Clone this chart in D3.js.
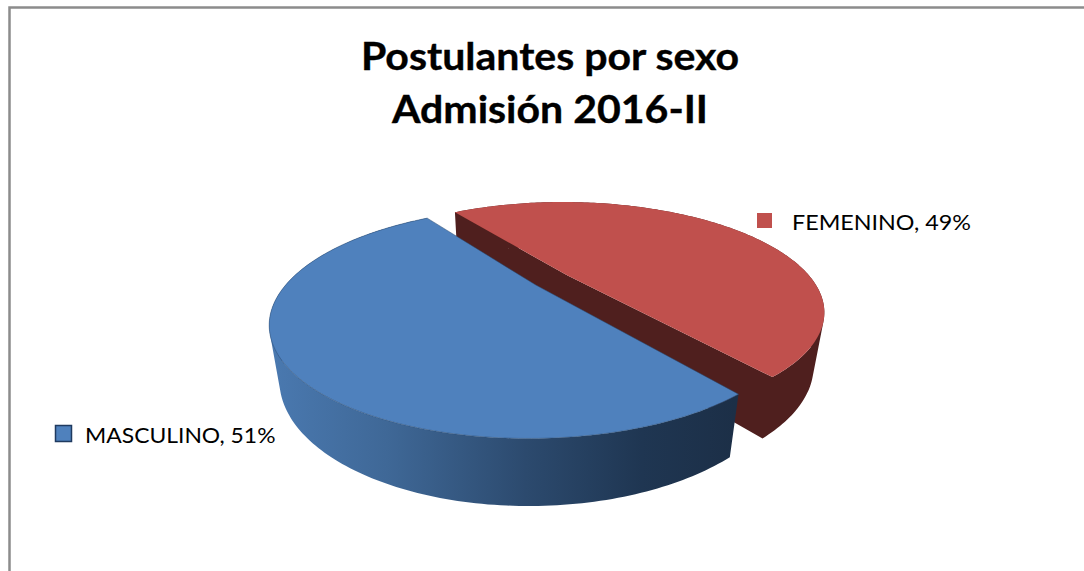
<!DOCTYPE html>
<html lang="es"><head><meta charset="utf-8">
<style>html,body{margin:0;padding:0;background:#fff}svg{display:block}text{font-family:Lato,"Liberation Sans",sans-serif;fill:#000}</style>
</head><body>
<svg id="c" width="1084" height="571"></svg>
<script src="https://cdn.jsdelivr.net/npm/d3@7"></script>
<script>
const titleLines = ["Postulantes por sexo", "Admisión 2016-II"];
const categories = ["MASCULINO", "FEMENINO"];
const values = [51, 49];
const topColors = ["#4f81bd", "#c0504d"];

const G = {cx:535.9, cy:285.1, a:249.6, b:103.1, s:10.35, t:-2.39, k:0.3275, m:-0.0054, e:0.16};
const firstCut = -0.6261; // angle of the blue/red cut at the back of the disc

const svg = d3.select("#c");
const defs = svg.append("defs");
const grad = defs.append("linearGradient").attr("id","blueWall")
  .attr("gradientUnits","userSpaceOnUse").attr("x1",270).attr("x2",735).attr("y1",0).attr("y2",0);
[[0,"#4a79b0"],[0.25,"#3f6897"],[0.55,"#2c4a6e"],[0.8,"#1f3652"],[1,"#1c2f47"]]
  .forEach(([o,c])=>grad.append("stop").attr("offset",o).attr("stop-color",c));

// frame
svg.append("path").attr("d",`M9.5,571V7.5H1084`).attr("fill","none").attr("stroke","#8c8c8c").attr("stroke-width",2.5);

const total = d3.sum(values);
const startAngle = firstCut + 2*Math.PI*values[1]/total;
const arcs = d3.pie().sort(null).startAngle(startAngle).endAngle(startAngle+2*Math.PI)(values);

function project(u,v){
  const w = 1+G.k*v+G.m*u;
  return [G.cx+(G.a*u+G.s*v)/w, G.cy-(G.b*v+G.t*u)/w, w];
}
function lower(u,v){
  const [x,y,w] = project(u,v);
  const dep = 20+32/w;
  return [x-(x-G.cx)*dep*0.00068, y+dep];
}
const line = d3.line();
arcs.forEach((d,i)=>{ d.du = i? G.e*Math.sin((d.startAngle+d.endAngle)/2):0; d.dv = i? G.e*Math.cos((d.startAngle+d.endAngle)/2):0; });
const rim = (d,f)=>d3.range(0,181).map(j=>{
  const th=d.startAngle+(d.endAngle-d.startAngle)*j/180;
  return f(Math.sin(th)+d.du,Math.cos(th)+d.dv).slice(0,2);
});
// a quad with a fixed winding, so overlapping quads in one path never cancel
const quad = (a,b,c,e)=>{ const q=[a,b,c,e]; return line(d3.polygonArea(q)<0?q.reverse():q)+"Z"; };

[1,0].forEach(i=>{
  const d=arcs[i];
  const top=rim(d,project), bot=rim(d,lower);
  const g=svg.append("g");
  const wall=i===0?"url(#blueWall)":"#4f1f1e";
  let wd="";
  for(let j=0;j<180;j++) wd+=quad(top[j],top[j+1],bot[j+1],bot[j]);
  const c0=project(d.du,d.dv).slice(0,2), c1=lower(d.du,d.dv);
  if(i===1){
    wd+=quad(top[0],c0,c1,bot[0]);
    wd+=quad(top[180],c0,c1,bot[180]);
  }
  g.append("path").attr("d",wd).attr("fill",wall).attr("fill-rule","nonzero");
  g.append("path").attr("d",line(top.concat([c0]))+"Z").attr("fill",topColors[i])
    .attr("stroke",i===0?"#2b4a70":"none").attr("stroke-width",i===0?0.5:0);
});

// title
svg.append("g").selectAll("text").data(titleLines).join("text")
  .attr("transform",(d,i)=>`translate(550,${69.5+i*53.5}) scale(1.08,1)`).attr("text-anchor","middle")
  .attr("font-size",38).attr("font-weight",700).attr("stroke","#000").attr("stroke-width",0.35).text(d=>d);

// legend
const legendPos=[{sx:55,sy:425,s:16,tx:85,ty:443,stroke:"#1f3a5f",sc:1.04},{sx:757,sy:213,s:15,tx:792,ty:230,stroke:"none",sc:1.06}];
const lg=svg.append("g");
categories.forEach((c,i)=>{
  const p=legendPos[i];
  lg.append("rect").attr("x",p.sx+(i?0:.5)).attr("y",p.sy+(i?0:.5)).attr("width",p.s).attr("height",p.s)
    .attr("fill",topColors[i]).attr("stroke",p.stroke).attr("stroke-width",i?0:1.5);
  lg.append("text").attr("transform",`translate(${p.tx},${p.ty}) scale(${p.sc},1)`).attr("font-size",22).text(`${c}, ${values[i]}%`);
});
</script></body></html>
